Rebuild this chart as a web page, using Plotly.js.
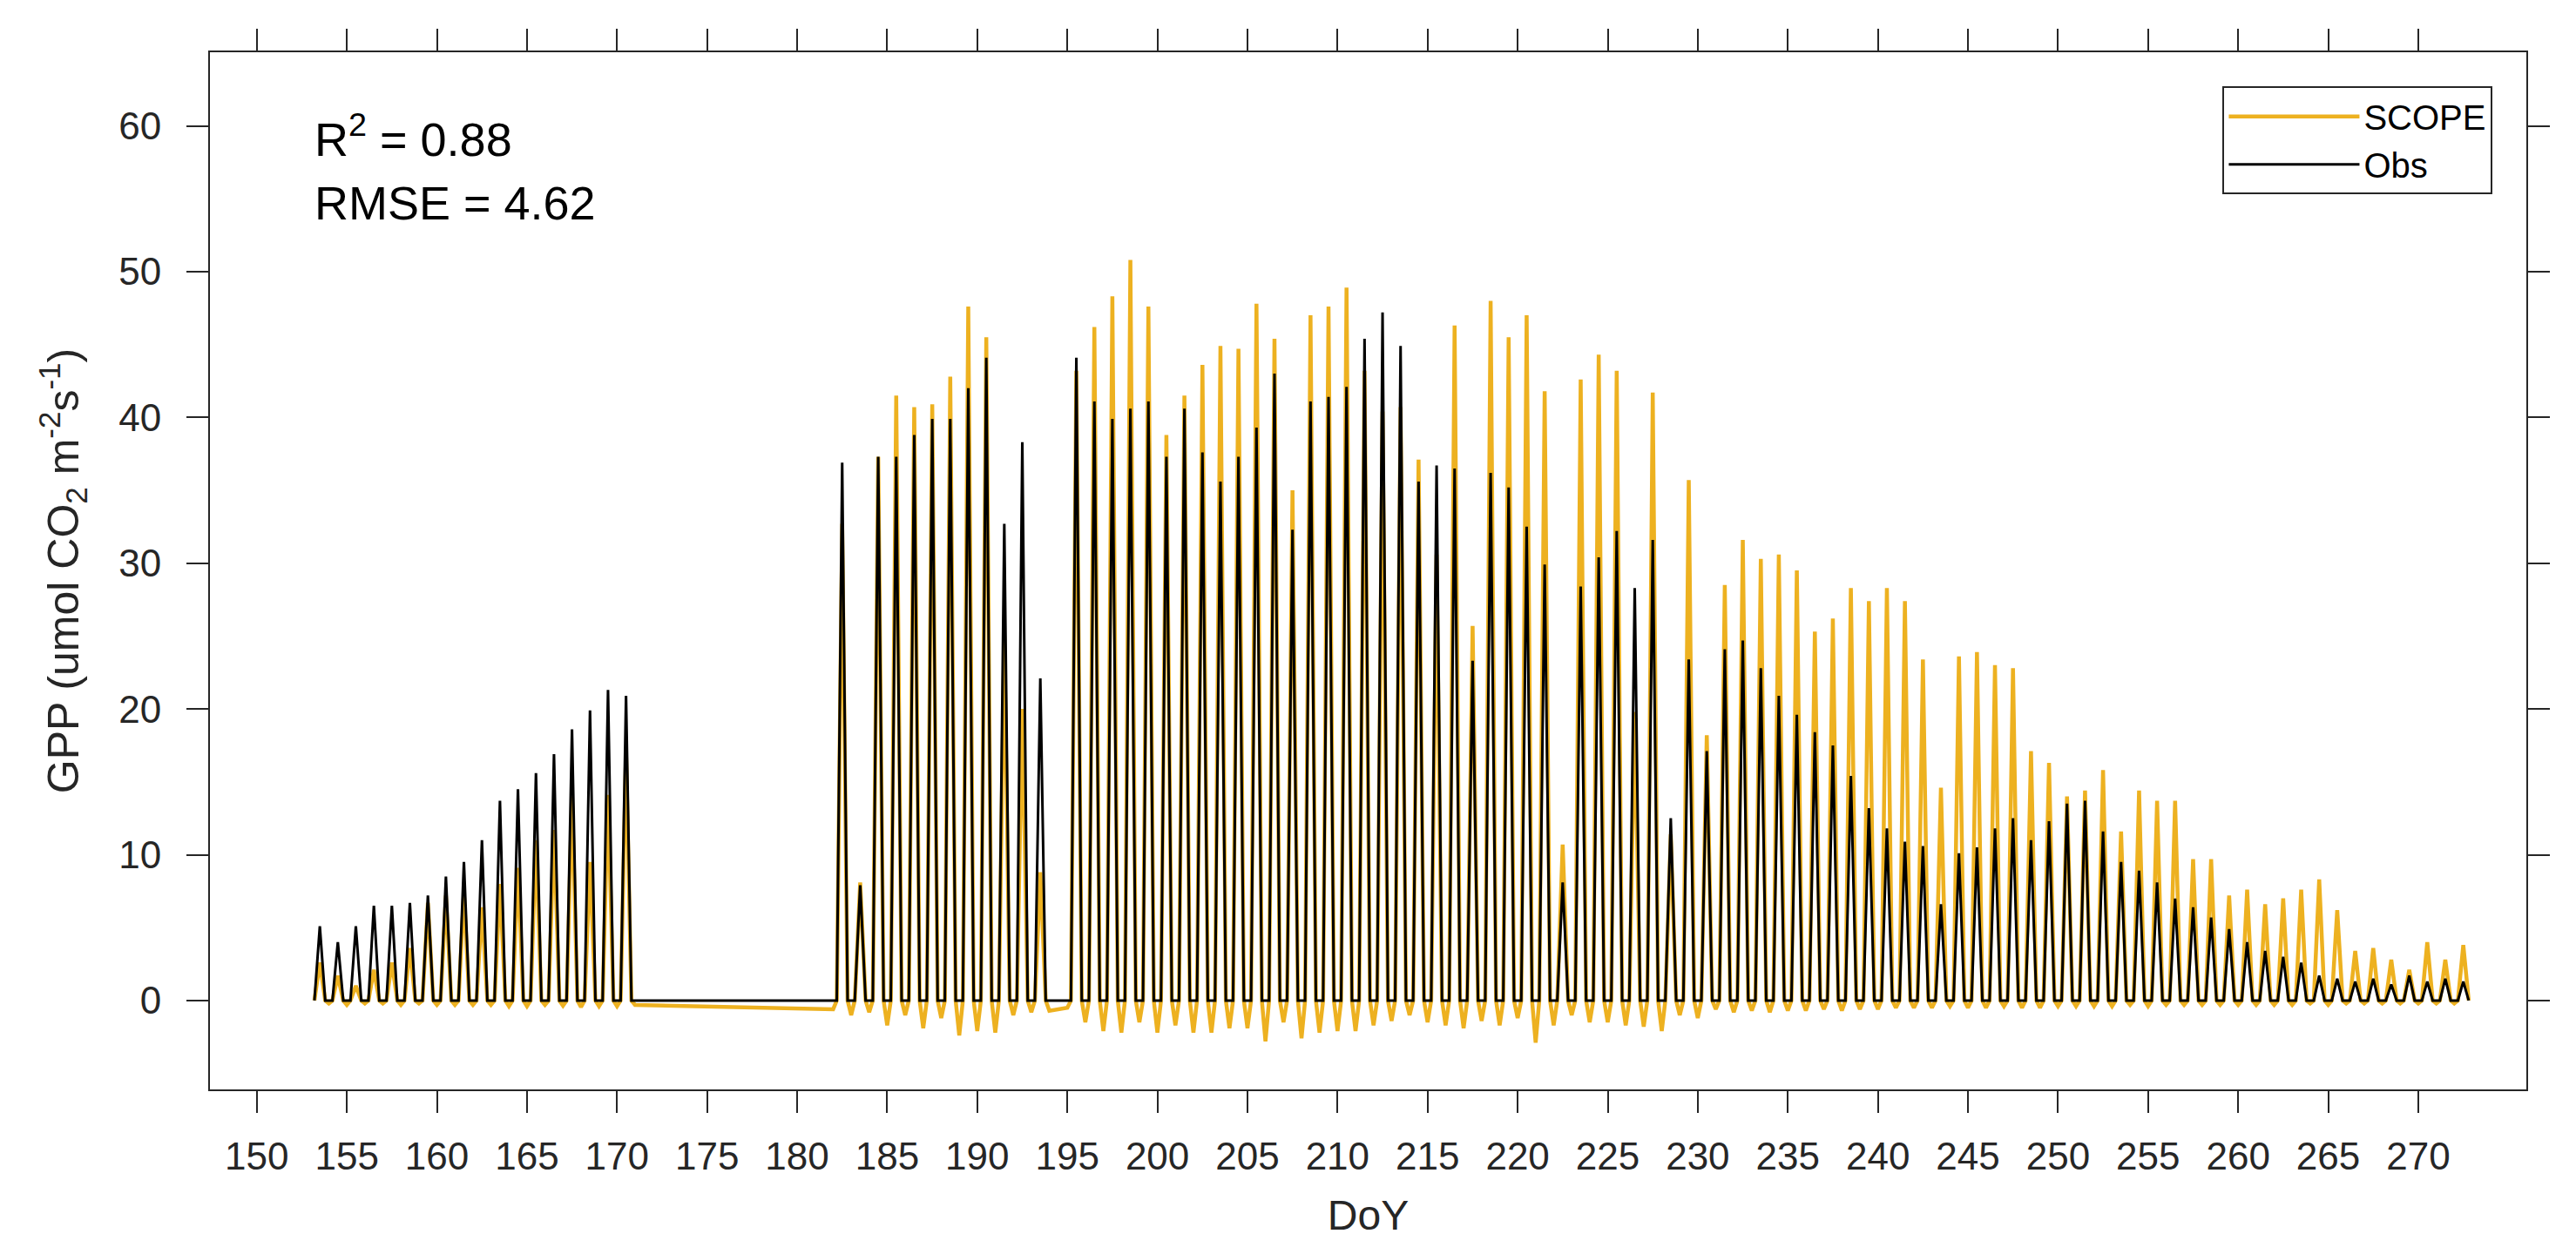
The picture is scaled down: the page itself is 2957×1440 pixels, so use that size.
<!DOCTYPE html>
<html>
<head>
<meta charset="utf-8">
<script src="https://cdn.plot.ly/plotly-3.0.1.min.js"></script>
<style>
  html, body { margin: 0; padding: 0; background: #ffffff; }
  #chart { width: 2957px; height: 1440px; }
</style>
</head>
<body>
<div id="chart"></div>
<script>
// ---- Data (daily values, DoY 153 .. 272) ----
const startDay = 153;

// Observed GPP: midday peak of each day (null = missing data)
const obsPeak = [
  5.1, 4.0, 5.1, 6.5, 6.5, 6.7, 7.2, 8.5, 9.5, 11.0,      // 153-162
  13.7, 14.5, 15.6, 16.9, 18.6, 19.9, 21.3, 20.9,         // 163-170
  null, null, null, null, null, null, null, null, null, null, null, // 171-181
  36.9, 7.9, 37.3, 37.3, 38.8, 39.9, 39.9, 42.0, 44.1, 32.7, 38.3, 22.1, // 182-193
  null,                                                   // 194
  44.1, 41.1, 39.9, 40.6, 41.1, 37.3, 40.6, 37.6, 35.6, 37.3, // 195-204
  39.3, 43.0, 32.3, 41.1, 41.4, 42.1, 45.4, 47.2, 44.9, 35.6, // 205-214
  36.7, 36.5, 23.3, 36.2, 35.2, 32.5, 29.9, 8.1, 28.4, 30.4,  // 215-224
  32.2, 28.3, 31.6, 12.5, 23.4, 17.1, 24.1, 24.7, 22.8, 20.9, // 225-234
  19.6, 18.4, 17.5, 15.4, 13.2, 11.8, 10.9, 10.6, 6.6, 10.1,  // 235-244
  10.5, 11.8, 12.5, 11.0, 12.3, 13.5, 13.7, 11.6, 9.5, 8.9,   // 245-254
  8.1, 7.0, 6.4, 5.7, 4.9, 4.0, 3.4, 3.0, 2.6, 1.7,           // 255-264
  1.5, 1.3, 1.5, 1.1, 1.7, 1.3, 1.5, 1.3                      // 265-272
];

// SCOPE GPP: midday peak of each day
const scopePeak = [
  2.6, 1.7, 1.0, 2.1, 2.6, 3.6, 6.7, 7.2, 7.4, 6.4,       // 153-162
  8.0, 9.1, 11.0, 11.7, 14.0, 9.5, 14.1, 17.1,            // 163-170
  null, null, null, null, null, null, null, null, null, null, null, // 171-181
  32.7, 8.1, 37.3, 41.5, 40.7, 40.9, 42.8, 47.6, 45.5, 25.0, 20.0, 8.8, // 182-193
  null,                                                   // 194
  43.2, 46.2, 48.3, 50.8, 47.6, 38.8, 41.5, 43.6, 44.9, 44.7, // 195-204
  47.8, 45.4, 35.0, 47.0, 47.6, 48.9, 43.2, 40.4, 40.7, 37.1, // 205-214
  30.6, 46.3, 25.7, 48.0, 45.5, 47.0, 41.8, 10.7, 42.6, 44.3, // 215-224
  43.2, 19.8, 41.7, 11.4, 35.7, 18.2, 28.5, 31.6, 30.3, 30.6, // 225-234
  29.5, 25.3, 26.2, 28.3, 27.4, 28.3, 27.4, 23.4, 14.6, 23.6, // 235-244
  23.9, 23.0, 22.8, 17.1, 16.3, 14.0, 14.4, 15.8, 11.6, 14.4, // 245-254
  13.7, 13.7, 9.7, 9.7, 7.2, 7.6, 6.6, 7.0, 7.6, 8.3,         // 255-264
  6.2, 3.4, 3.6, 2.8, 2.1, 4.0, 2.8, 3.8                      // 265-272
];

// SCOPE GPP: night-time minimum following each day (negative values)
const scopeNight = [
  -0.2, -0.3, -0.2, -0.2, -0.3, -0.2, -0.3, -0.3, -0.3, -0.3, // 153-162
  -0.4, -0.4, -0.3, -0.35, -0.45, -0.4, -0.4, -0.3,           // 163-170
  null, null, null, null, null, null, null, null, null, null, -0.6, // 171-181
  -1.0, -0.8, -1.7, -1.0, -1.9, -1.2, -2.4, -2.1, -2.2, -1.0, -0.8, -0.7, // 182-193
  -0.5,                                                       // 194
  -1.5, -2.1, -2.2, -1.5, -2.2, -1.7, -2.2, -2.2, -1.9, -1.9, // 195-204
  -2.8, -1.5, -2.6, -2.2, -2.1, -2.1, -1.7, -1.4, -1.0, -1.5, // 205-214
  -1.7, -1.9, -1.4, -1.7, -1.2, -2.9, -1.7, -1.0, -1.5, -1.5, // 215-224
  -1.7, -1.8, -2.1, -1.0, -1.2, -0.6, -0.8, -0.7, -0.8, -0.7, // 225-234
  -0.7, -0.6, -0.7, -0.6, -0.6, -0.5, -0.5, -0.5, -0.4, -0.5, // 235-244
  -0.5, -0.4, -0.5, -0.5, -0.4, -0.4, -0.4, -0.4, -0.3, -0.4, // 245-254
  -0.3, -0.3, -0.3, -0.3, -0.3, -0.3, -0.3, -0.3, -0.2, -0.3, // 255-264
  -0.2, -0.2, -0.2, -0.2, -0.2, -0.2, -0.2, null              // 265-272
];

const seriesNames = ['SCOPE', 'Obs'];
const xTickVals = [150,155,160,165,170,175,180,185,190,195,200,205,210,215,220,225,230,235,240,245,250,255,260,265,270];
const yTickVals = [0,10,20,30,40,50,60];
const statsText = ['R<sup>2</sup> = 0.88', 'RMSE = 4.62'];

// ---- Build the daily cycles (sunrise 0, midday peak, sunset 0, night minimum) ----
const RISE = 0.2, NOON = 0.5, SET = 0.8;
const obsX = [], obsY = [], scX = [], scY = [];
for (let i = 0; i < obsPeak.length; i++) {
  const d = startDay + i;
  if (obsPeak[i] !== null) {
    obsX.push(d + RISE, d + NOON, d + SET);
    obsY.push(0, obsPeak[i], 0);
  }
  if (scopePeak[i] !== null) {
    scX.push(d + RISE, d + NOON, d + SET);
    scY.push(0, scopePeak[i], 0);
  }
  if (scopeNight[i] !== null) {
    scX.push(d + 1);
    scY.push(scopeNight[i]);
  }
}

const FONT = 'Liberation Sans, Arial, Helvetica, sans-serif';
const AXC = '#262626';

const traces = [
  { x: scX, y: scY, type: 'scatter', mode: 'lines', name: seriesNames[0],
    line: { color: '#EDB120', width: 4.5 } },
  { x: obsX, y: obsY, type: 'scatter', mode: 'lines', name: seriesNames[1],
    line: { color: '#000000', width: 3 } }
];

const axisCommon = {
  showgrid: false, zeroline: false, showline: true, linecolor: AXC, linewidth: 2,
  mirror: 'allticks', ticks: 'outside', ticklen: 25, tickwidth: 2, tickcolor: AXC,
  tickfont: { family: FONT, size: 44, color: AXC }
};

const layout = {
  width: 2957, height: 1440,
  paper_bgcolor: '#ffffff', plot_bgcolor: '#ffffff',
  margin: { l: 241, r: 57, t: 60, b: 189 },
  showlegend: true,
  legend: {
    x: 0.9855, xanchor: 'right', y: 0.967, yanchor: 'top',
    bgcolor: '#ffffff', bordercolor: AXC, borderwidth: 2,
    font: { family: FONT, size: 40, color: '#000000' },
    itemwidth: 150, tracegroupgap: 0
  },
  xaxis: Object.assign({}, axisCommon, {
    range: [147.4, 276], tickmode: 'array', tickvals: xTickVals,
    ticklabelstandoff: 12,
    title: { text: 'DoY', font: { family: FONT, size: 48, color: AXC }, standoff: 28 }
  }),
  yaxis: Object.assign({}, axisCommon, {
    range: [-6.1, 65.05], tickmode: 'array', tickvals: yTickVals,
    ticklabelstandoff: 20,
    title: { text: 'GPP (umol CO<sub>2</sub> m<sup>-2</sup>s<sup>-1</sup>)',
             font: { family: FONT, size: 50, color: AXC }, standoff: 30 }
  }),
  annotations: [
    { xref: 'paper', yref: 'paper', x: 0.0442, y: 0.919, xanchor: 'left', yanchor: 'middle',
      text: statsText[0], showarrow: false, font: { family: FONT, size: 54, color: '#000000' } },
    { xref: 'paper', yref: 'paper', x: 0.0442, y: 0.855, xanchor: 'left', yanchor: 'middle',
      text: statsText[1], showarrow: false, font: { family: FONT, size: 54, color: '#000000' } }
  ]
};

Plotly.newPlot('chart', traces, layout, { displayModeBar: false, staticPlot: true });
</script>
</body>
</html>
